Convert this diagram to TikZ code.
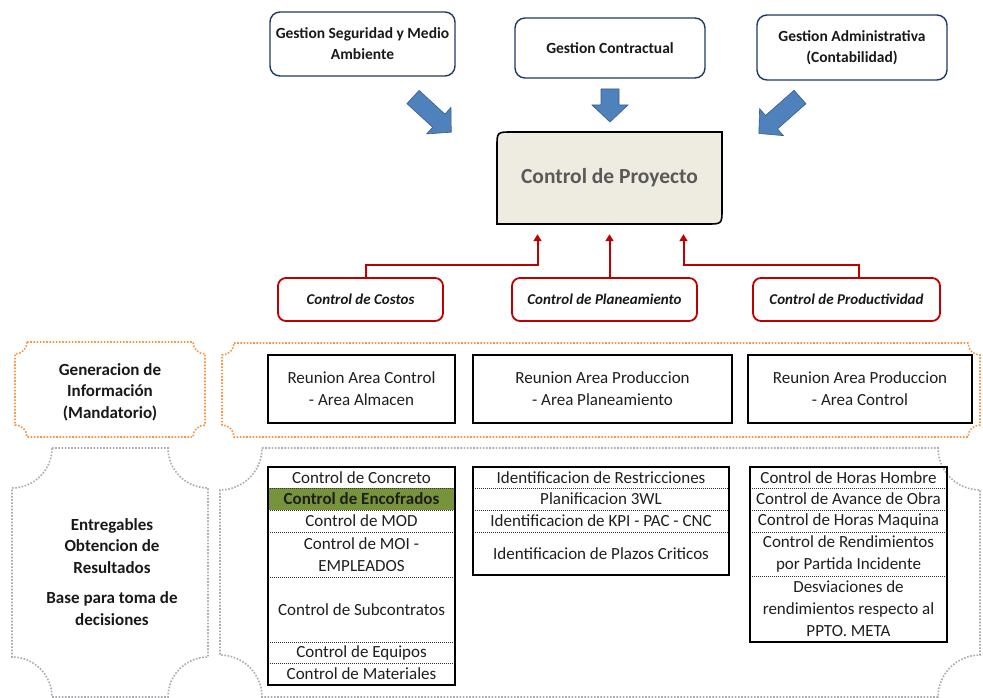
\documentclass[tikz,border=0pt]{standalone}
\usepackage{fontspec}
\setmainfont{Carlito}
\usetikzlibrary{arrows.meta}

\definecolor{gestborder}{RGB}{31,56,100}
\definecolor{arrowblue}{RGB}{79,129,189}
\definecolor{arrowedge}{RGB}{56,93,138}
\definecolor{proyfill}{RGB}{238,236,225}
\definecolor{proytext}{RGB}{89,89,89}
\definecolor{ctrlred}{RGB}{192,0,0}
\definecolor{infoorange}{RGB}{247,150,70}
\definecolor{plaquegray}{RGB}{170,170,175}
\definecolor{encogreen}{RGB}{119,147,60}
\definecolor{cellgray}{RGB}{30,30,30}

% block arrow: tail point, angle, length
\newcommand{\blockarrow}[3]{%
	\filldraw[fill=arrowblue, draw=arrowedge, line width=0.6pt, shift={#1}, rotate=#2]
		(0,-9) -- (#3-17,-9) -- (#3-17,-18) -- (#3,0) -- (#3-17,18) -- (#3-17,9) -- (0,9) -- cycle;}

% plaque with hollow corners: style, x1, y1, x2, y2, radius
\newcommand{\plaque}[6]{%
	\draw[#1] (#2+#6,#3) -- (#4-#6,#3)
		.. controls (#4-#6,#3+0.55*#6) and (#4-0.55*#6,#3+#6) .. (#4,#3+#6) -- (#4,#5-#6)
		.. controls (#4-0.55*#6,#5-#6) and (#4-#6,#5-0.55*#6) .. (#4-#6,#5) -- (#2+#6,#5)
		.. controls (#2+#6,#5-0.55*#6) and (#2+0.55*#6,#5-#6) .. (#2,#5-#6) -- (#2,#3+#6)
		.. controls (#2+0.55*#6,#3+#6) and (#2+#6,#3+0.55*#6) .. (#2+#6,#3) -- cycle;}

\begin{document}
\begin{tikzpicture}[x=1pt, y=-1pt,
	gestion/.style={draw=gestborder, line width=1.4pt, rounded corners=10pt, fill=white, align=center, font=\fontsize{15.5}{21}\selectfont\bfseries, text=black!90},
	control/.style={draw=ctrlred, line width=1.8pt, rounded corners=8pt, fill=white, minimum height=43pt, font=\fontsize{15}{18}\selectfont\bfseries\itshape, text=black!90},
	redarrow/.style={draw=ctrlred, line width=2pt, -{Triangle[length=7pt,width=8pt]}},
	reunion/.style={draw=black, line width=1.4pt, minimum height=68pt, align=center, font=\fontsize{17}{22}\selectfont, text=cellgray},
	cell/.style={inner sep=0pt, align=center, font=\fontsize{17}{22}\selectfont, text=cellgray},
	rowline/.style={black!80, line width=0.7pt, dash pattern=on 0.8pt off 1.2pt},
	tablebox/.style={draw=black, line width=2pt},
	infoplaque/.style={draw=infoorange, line width=1.6pt, dash pattern=on 1.6pt off 1.6pt},
	baseplaque/.style={draw=plaquegray, line width=1.6pt, dash pattern=on 1.6pt off 1.6pt},
	side/.style={align=center, font=\fontsize{17}{21.5}\selectfont\bfseries, text=black!90}]

	\useasboundingbox (0,0) rectangle (983,698);

	%gestion boxes
	\node[gestion, minimum width=185pt, minimum height=64pt] (seguridad) at (362.5,44) {Gestion Seguridad y Medio\\Ambiente};
	\node[gestion, minimum width=190pt, minimum height=60pt] (contractual) at (610,48) {Gestion Contractual};
	\node[gestion, minimum width=190pt, minimum height=65pt] (administrativa) at (852,47.5) {Gestion Administrativa\\(Contabilidad)};

	%blue arrows
	\blockarrow{(413,97)}{-42.6}{52}
	\blockarrow{(610,89)}{-90}{33}
	\blockarrow{(800,97)}{-138.5}{55}

	%control de proyecto
	\filldraw[fill=proyfill, draw=black, line width=1.6pt] (497,224) -- (497,147) .. controls (497,132) .. (512,132) -- (722,132) -- (722,209) .. controls (722,224) .. (707,224) -- cycle;
	\node[minimum width=225pt, minimum height=92pt, font=\fontsize{21.5}{24}\selectfont\bfseries, text=proytext] (proy) at (609.5,178) {Control de Proyecto};

	%control boxes
	\node[control, minimum width=165pt] (costos) at (360.5,299.5) {Control de Costos};
	\node[control, minimum width=185pt] (planeamiento) at (604.5,299.5) {Control de Planeamiento};
	\node[control, minimum width=187pt] (productividad) at (846.5,299.5) {Control de Productividad};

	\draw[redarrow] ([xshift=5pt]costos.north) -- ++(0,-12) -| ([xshift=-72pt,yshift=-10pt]proy.south);
	\draw[redarrow] (planeamiento.north -| proy.south) -- ([yshift=-10pt]proy.south);
	\draw[redarrow] ([xshift=12pt]productividad.north) -- ++(0,-12) -| ([xshift=74pt,yshift=-10pt]proy.south);

	%generacion de informacion
	\plaque{infoplaque}{15}{342}{205}{437}{12}
	\plaque{infoplaque}{222}{343}{980}{437}{12}
	\node[side] (generacion) at (110,392) {Generacion de\\Información\\(Mandatorio)};

	\node[reunion, minimum width=187pt] (almacen) at (361.5,389) {Reunion Area Control\\- Area Almacen};
	\node[reunion, minimum width=259pt] (planarea) at (602.5,389) {Reunion Area Produccion\\- Area Planeamiento};
	\node[reunion, minimum width=224pt] (controlarea) at (860,389) {Reunion Area Produccion\\- Area Control};

	%entregables
	\plaque{baseplaque}{12}{448}{208}{697}{40}
	\plaque{baseplaque}{220}{448}{980}{697}{42}
	\node[side] (entregables) at (112,572) {Entregables\\Obtencion de\\Resultados\\[9pt]Base para toma de\\decisiones};

	%tabla costos
	\begin{scope}[every node/.append style={minimum width=187pt}]
		\node[cell, minimum height=21pt] (c1) at (361.5,477.5) {Control de Concreto};
		\node[cell, minimum height=22pt, fill=encogreen, font=\fontsize{17}{22}\selectfont\bfseries] (c2) at (361.5,499) {Control de Encofrados};
		\node[cell, minimum height=22pt] (c3) at (361.5,521) {Control de MOD};
		\node[cell, minimum height=45pt] (c4) at (361.5,554.5) {Control de MOI -\\EMPLEADOS};
		\node[cell, minimum height=65pt] (c5) at (361.5,609.5) {Control de Subcontratos};
		\node[cell, minimum height=21pt] (c6) at (361.5,652.5) {Control de Equipos};
		\node[cell, minimum height=22pt] (c7) at (361.5,674) {Control de Materiales};
	\end{scope}
	\draw[rowline] (c1.south west) -- (c1.south east);
	\draw[rowline] (c2.south west) -- (c2.south east);
	\draw[rowline] (c3.south west) -- (c3.south east);
	\draw[rowline] (c4.south west) -- (c4.south east);
	\draw[rowline] (c5.south west) -- (c5.south east);
	\draw[rowline] (c6.south west) -- (c6.south east);
	\draw[tablebox] (c1.north west) rectangle (c7.south east);

	%tabla planeamiento
	\begin{scope}[every node/.append style={minimum width=256pt}]
		\node[cell, minimum height=21pt] (p1) at (601,477.5) {Identificacion de Restricciones};
		\node[cell, minimum height=22pt] (p2) at (601,499) {Planificacion 3WL};
		\node[cell, minimum height=22pt] (p3) at (601,521) {Identificacion de KPI - PAC - CNC};
		\node[cell, minimum height=43pt] (p4) at (601,553.5) {Identificacion de Plazos Criticos};
	\end{scope}
	\draw[rowline] (p1.south west) -- (p1.south east);
	\draw[rowline] (p2.south west) -- (p2.south east);
	\draw[rowline] (p3.south west) -- (p3.south east);
	\draw[tablebox] (p1.north west) rectangle (p4.south east);

	%tabla productividad
	\begin{scope}[every node/.append style={minimum width=197pt}]
		\node[cell, minimum height=21pt] (r1) at (848.5,477.5) {Control de Horas Hombre};
		\node[cell, minimum height=22pt] (r2) at (848.5,499) {Control de Avance de Obra};
		\node[cell, minimum height=22pt] (r3) at (848.5,521) {Control de Horas Maquina};
		\node[cell, minimum height=44pt] (r4) at (848.5,554) {Control de Rendimientos\\por Partida Incidente};
		\node[cell, minimum height=66pt] (r5) at (848.5,609) {Desviaciones de\\rendimientos respecto al\\PPTO. META};
	\end{scope}
	\draw[rowline] (r1.south west) -- (r1.south east);
	\draw[rowline] (r2.south west) -- (r2.south east);
	\draw[rowline] (r3.south west) -- (r3.south east);
	\draw[rowline] (r4.south west) -- (r4.south east);
	\draw[tablebox] (r1.north west) rectangle (r5.south east);

\end{tikzpicture}
\end{document}
